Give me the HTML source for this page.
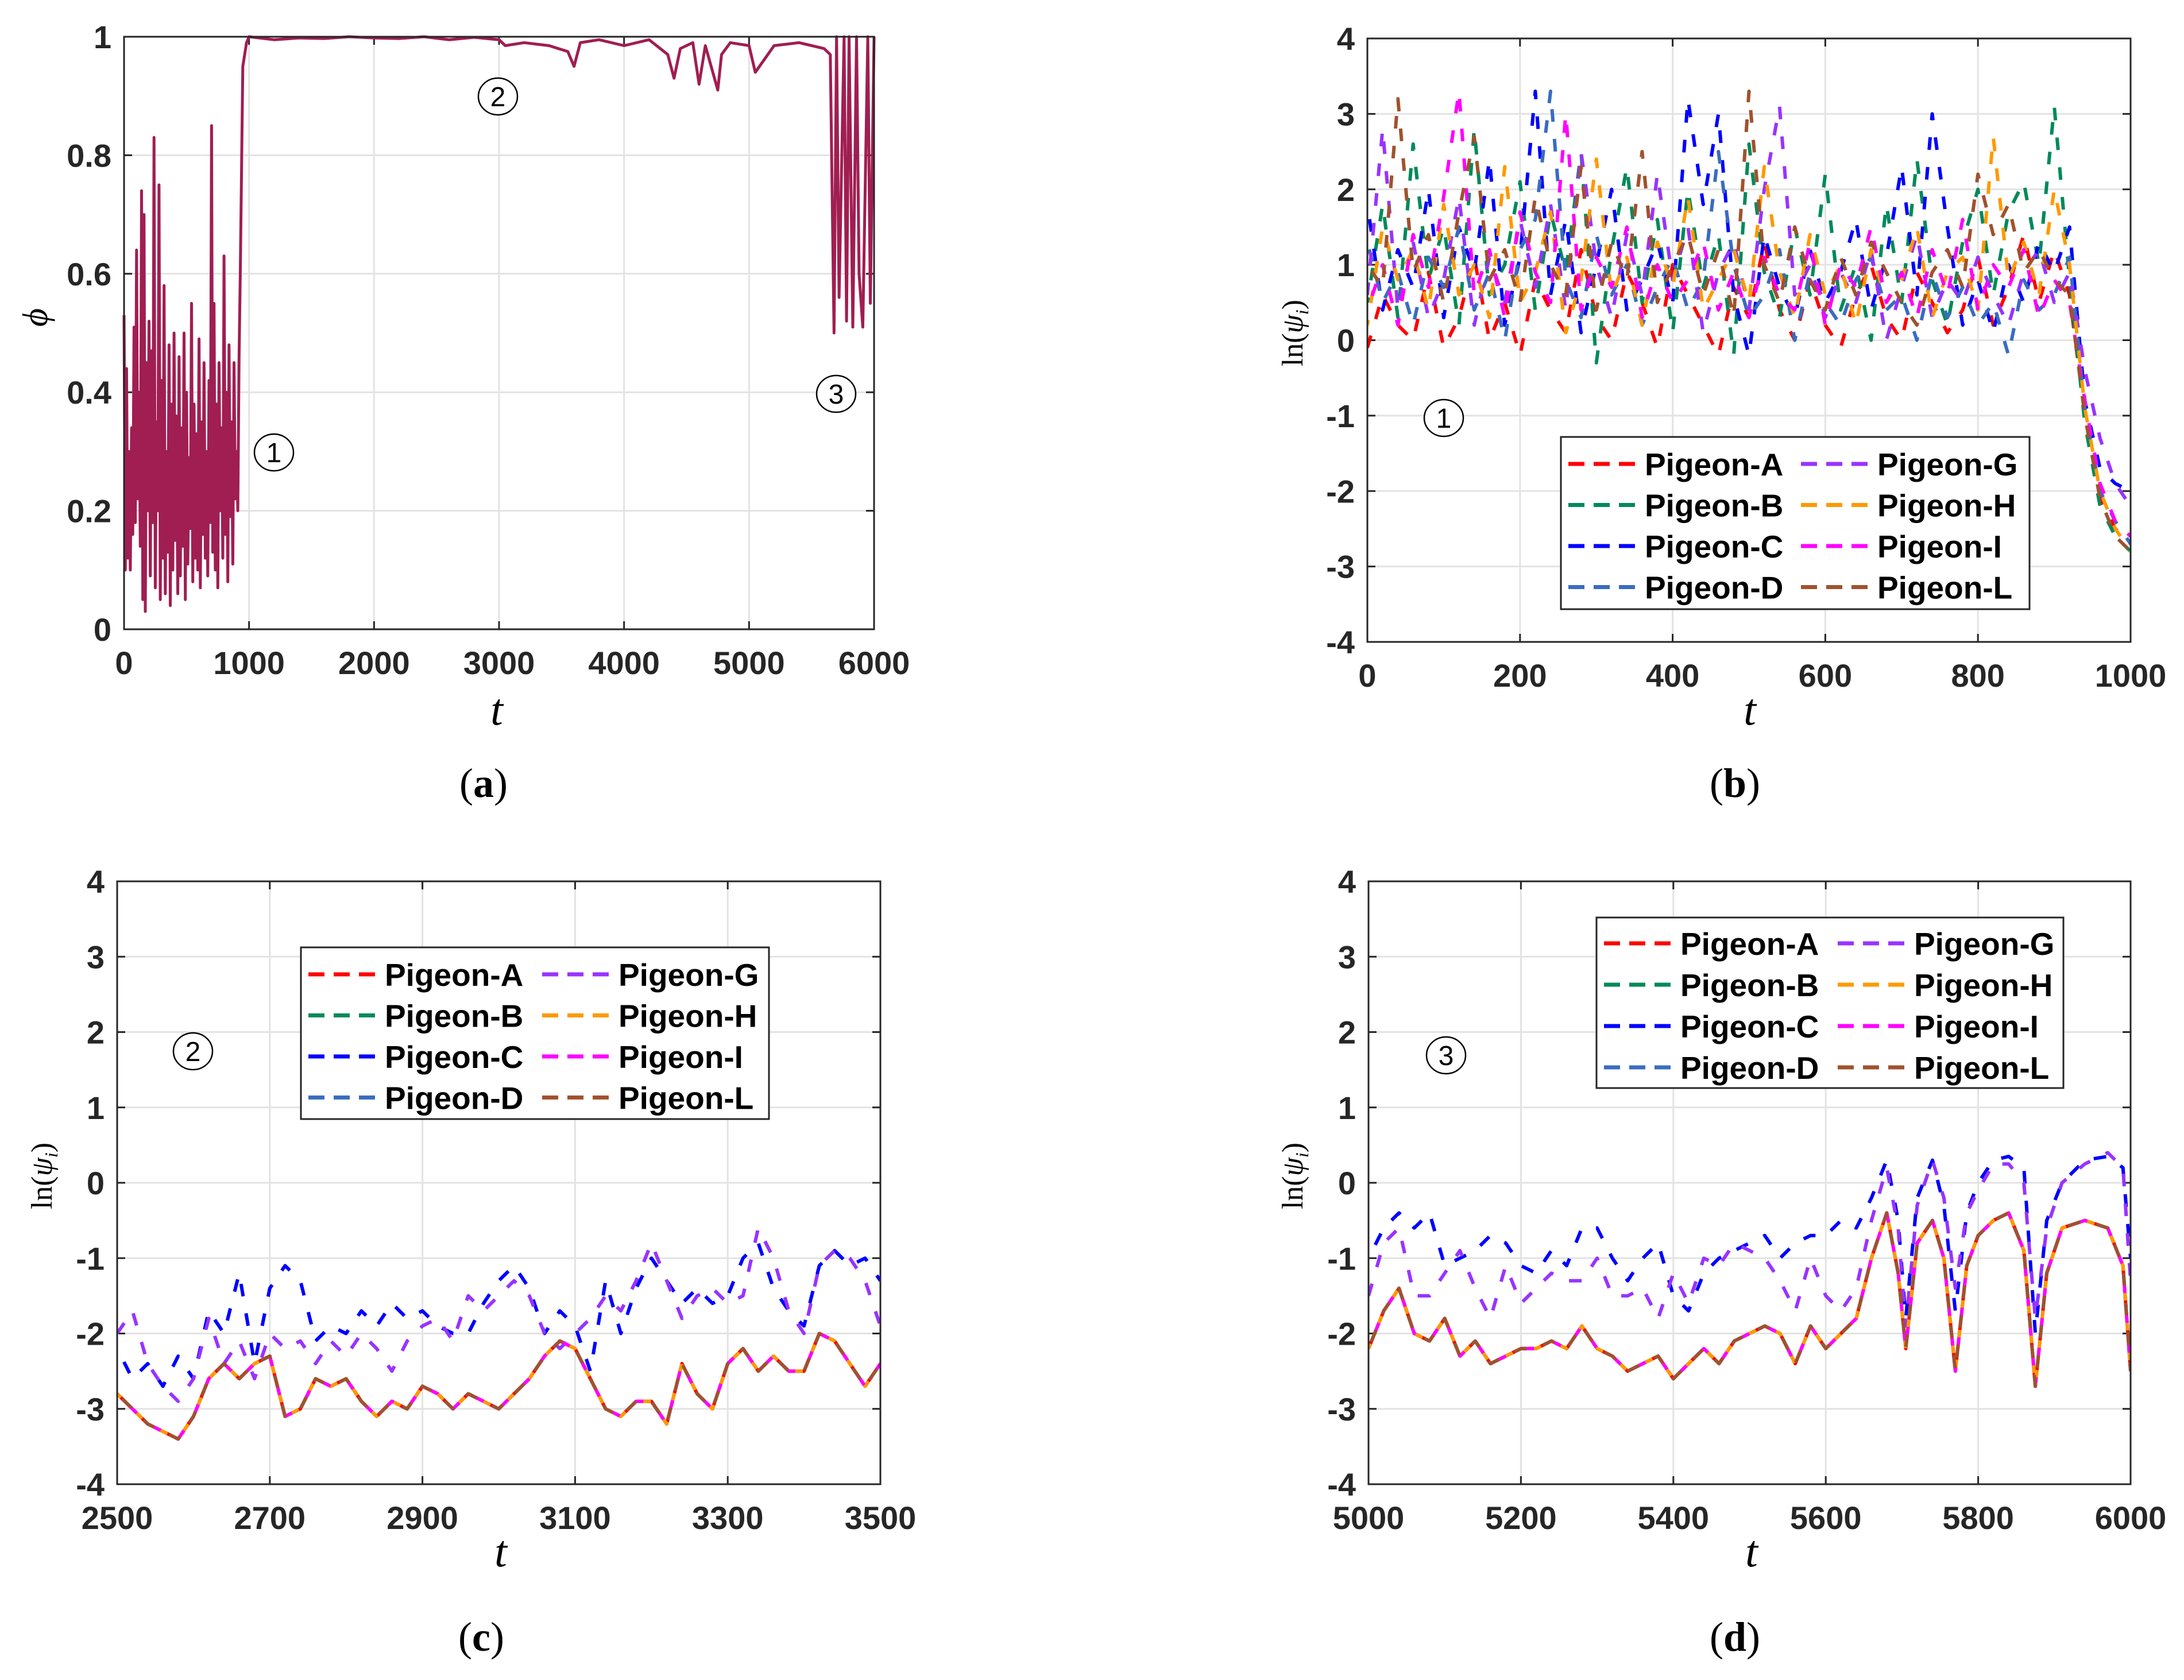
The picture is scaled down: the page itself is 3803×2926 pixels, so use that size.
<!DOCTYPE html>
<html><head><meta charset="utf-8">
<style>
html,body{margin:0;padding:0;background:#fff;}
svg{display:block;}
.tick{font-family:"Liberation Sans",sans-serif;font-weight:bold;font-size:56px;fill:#262626;}
.leg{font-family:"Liberation Sans",sans-serif;font-weight:bold;font-size:55px;fill:#000;}
.ser{font-family:"Liberation Serif",serif;fill:#000;}
</style></head>
<body>
<svg id="fig" width="3803" height="2926" viewBox="0 0 3803 2926" xmlns="http://www.w3.org/2000/svg"></svg>
<script>
// ---------- DATA ----------
const phiNoise = [0.53,0.10,0.44,0.12,0.30,0.10,0.34,0.16,0.51,0.18,0.64,0.22,0.40,0.14,0.74,0.05,0.70,0.03,0.45,0.20,0.52,0.09,0.47,0.18,0.83,0.07,0.35,0.20,0.75,0.05,0.42,0.12,0.58,0.06,0.30,0.13,0.48,0.04,0.38,0.10,0.50,0.15,0.36,0.06,0.46,0.09,0.34,0.14,0.50,0.05,0.40,0.11,0.29,0.17,0.55,0.08,0.38,0.12,0.33,0.10,0.49,0.07,0.35,0.16,0.45,0.12,0.30,0.09,0.42,0.18,0.85,0.13,0.55,0.10,0.38,0.07,0.45,0.20,0.34,0.12,0.63,0.16,0.40,0.08,0.48,0.19,0.35,0.11,0.45,0.22,0.30,0.20,0.46];
const phiTailT = [930,950,980,1000,1200,1400,1600,1800,2000,2200,2400,2600,2800,3000,3050,3200,3400,3550,3600,3650,3800,4000,4200,4350,4400,4450,4550,4600,4650,4750,4780,4850,5000,5050,5200,5400,5600,5650,5680,5700,5720,5760,5780,5800,5830,5860,5880,5910,5950,5970,6000];
const phiTail = [0.6,0.95,0.99,1.0,0.995,0.998,0.997,1.0,0.998,0.997,1.0,0.995,0.999,0.995,0.985,0.99,0.985,0.975,0.95,0.99,0.995,0.985,0.995,0.97,0.93,0.98,0.99,0.92,0.985,0.91,0.97,0.99,0.985,0.94,0.985,0.99,0.98,0.97,0.5,1.0,0.56,1.0,0.52,1.0,0.51,1.0,0.6,0.51,1.0,0.55,1.0];
const phiTicksX = [0,1000,2000,3000,4000,5000,6000];
const phiTicksY = [0,0.2,0.4,0.6,0.8,1];
const lnTicksY = [-4,-3,-2,-1,0,1,2,3,4];

const seriesNames = ["Pigeon-A","Pigeon-B","Pigeon-C","Pigeon-D","Pigeon-G","Pigeon-H","Pigeon-I","Pigeon-L"];
const seriesColors = ["#ff0000","#008a5a","#0000ff","#3a6cc0","#9933ff","#ff9900","#ff00ff","#a0522d"];

// panel b (t = 0..1000, evenly spaced)
const bA = [-0.1,0.6,0.2,0.0,0.9,-0.1,0.3,1.1,0.0,0.5,-0.2,0.8,0.4,0.1,1.2,0.3,0.0,0.9,0.5,-0.1,1.0,0.6,0.2,-0.2,0.7,0.3,1.3,0.4,0.0,0.8,0.2,-0.1,0.6,1.0,0.3,0.0,0.9,0.5,0.1,0.4,1.1,0.2,0.7,1.4,0.5,1.2,0.6,-1.0,-2.1,-2.5,-2.7];
const bB = [0.5,1.8,0.3,2.6,0.8,1.5,0.2,2.8,0.6,1.0,2.1,0.4,1.7,0.9,2.5,-0.3,1.2,2.3,0.5,1.6,0.1,2.0,0.7,1.4,-0.2,2.6,0.9,0.3,1.5,0.6,2.2,0.4,1.0,0.0,1.8,0.5,2.4,0.8,0.2,1.3,2.0,0.6,1.7,2.1,1.0,3.1,0.8,-1.1,-2.2,-2.6,-2.8];
const bC = [1.8,0.4,1.2,0.7,2.0,0.3,1.5,0.9,2.4,0.2,1.1,3.3,0.6,1.6,0.1,1.0,2.0,0.4,0.8,1.3,0.5,3.2,1.8,3.0,0.6,-0.2,1.4,0.7,0.3,1.2,0.5,0.9,1.6,0.4,1.1,2.3,0.6,3.0,1.5,0.2,0.8,0.1,1.0,0.5,1.3,0.9,1.5,-0.8,-1.7,-1.9,-2.0];
const bD = [1.3,0.5,0.9,0.2,1.1,0.7,1.5,0.4,0.9,0.0,1.2,1.6,3.3,0.8,0.3,1.4,0.6,1.0,0.2,0.7,1.1,0.4,0.8,2.5,1.0,0.3,0.6,1.2,0.0,0.9,0.5,0.2,0.8,1.1,0.4,0.6,0.0,0.9,0.3,0.7,0.2,0.5,-0.2,0.8,0.4,0.6,1.1,-0.9,-2.0,-2.4,-2.7];
const bG = [0.6,2.8,0.4,1.3,0.3,0.8,1.9,0.2,1.1,0.5,1.6,0.7,1.8,0.4,2.5,1.0,0.3,1.4,0.6,2.2,0.8,1.5,0.1,0.9,1.3,0.4,2.0,3.1,0.6,1.0,0.3,0.9,0.5,1.2,0.0,0.7,1.4,0.3,0.8,0.5,1.1,0.6,0.2,0.9,1.2,0.5,0.9,-0.4,-1.3,-1.9,-2.2];
const bH = [0.2,1.5,0.8,1.2,0.4,1.8,0.6,1.0,0.3,2.3,0.5,0.9,1.7,0.1,0.8,2.4,0.6,1.1,0.2,1.3,0.7,1.9,0.4,0.8,1.2,0.5,2.3,0.9,0.3,1.4,0.6,1.0,0.2,1.2,0.5,0.8,1.5,0.3,0.9,1.1,0.4,2.7,0.8,1.3,0.6,2.0,1.0,-0.9,-2.0,-2.5,-2.8];
const bI = [0.4,1.0,0.2,1.4,0.7,1.9,3.3,0.6,1.2,0.3,1.7,0.9,0.5,3.0,0.4,1.1,0.7,1.5,0.3,1.0,0.5,0.8,1.3,0.4,0.9,0.3,1.1,0.6,0.4,1.3,0.2,1.0,0.7,1.5,0.5,0.9,0.3,1.2,0.6,1.6,0.4,1.0,0.7,1.2,0.3,0.8,0.5,-0.8,-1.9,-2.4,-2.6];
const bL = [1.0,0.7,3.2,0.9,1.4,0.5,1.7,2.7,0.8,1.2,0.5,1.9,1.0,0.6,2.3,0.4,1.3,0.8,2.5,0.5,1.0,1.4,0.6,1.2,0.3,3.3,1.0,0.5,1.5,0.8,0.4,1.1,0.6,1.3,0.9,0.5,0.2,0.9,1.2,0.7,2.2,1.4,1.8,0.9,1.2,0.8,0.6,-1.0,-2.1,-2.6,-2.8];
const bTicksX = [0,200,400,600,800,1000];

// panel c (t = 2500..3500, evenly spaced)
const cCluster = [-2.8,-3.0,-3.2,-3.3,-3.4,-3.1,-2.6,-2.4,-2.6,-2.4,-2.3,-3.1,-3.0,-2.6,-2.7,-2.6,-2.9,-3.1,-2.9,-3.0,-2.7,-2.8,-3.0,-2.8,-2.9,-3.0,-2.8,-2.6,-2.3,-2.1,-2.2,-2.6,-3.0,-3.1,-2.9,-2.9,-3.2,-2.4,-2.8,-3.0,-2.4,-2.2,-2.5,-2.3,-2.5,-2.5,-2.0,-2.1,-2.4,-2.7,-2.4];
const cC = [-2.2,-2.6,-2.4,-2.7,-2.3,-2.6,-1.7,-2.0,-1.2,-2.4,-1.4,-1.1,-1.3,-2.1,-1.9,-2.0,-1.7,-1.9,-1.6,-1.8,-1.7,-1.9,-2.0,-2.0,-1.6,-1.3,-1.1,-1.4,-2.0,-1.7,-1.9,-2.5,-1.3,-2.0,-1.4,-1.0,-1.3,-1.6,-1.4,-1.6,-1.5,-1.0,-0.8,-1.4,-1.7,-1.9,-1.1,-0.9,-1.1,-1.0,-1.3];
const cG = [-2.0,-1.7,-2.4,-2.7,-2.9,-2.6,-1.8,-2.4,-2.1,-2.6,-2.0,-2.2,-2.1,-2.4,-2.1,-2.3,-2.0,-2.2,-2.5,-2.1,-1.9,-1.8,-2.1,-1.5,-1.7,-1.5,-1.3,-1.5,-2.0,-2.2,-2.0,-1.8,-1.5,-1.7,-1.3,-0.8,-1.3,-1.8,-1.5,-1.4,-1.6,-1.5,-0.6,-1.0,-1.7,-2.0,-1.1,-0.9,-1.0,-1.3,-1.9];
const cTicksX = [2500,2700,2900,3100,3300,3500];

// panel d
const dT = [5000,5020,5040,5060,5080,5100,5120,5140,5160,5180,5200,5220,5240,5260,5280,5300,5320,5340,5360,5380,5400,5420,5440,5460,5480,5500,5520,5540,5560,5580,5600,5620,5640,5660,5680,5695,5705,5720,5740,5755,5770,5785,5800,5820,5840,5860,5875,5890,5910,5940,5970,5990,6000];
const dCluster = [-2.2,-1.7,-1.4,-2.0,-2.1,-1.8,-2.3,-2.1,-2.4,-2.3,-2.2,-2.2,-2.1,-2.2,-1.9,-2.2,-2.3,-2.5,-2.4,-2.3,-2.6,-2.4,-2.2,-2.4,-2.1,-2.0,-1.9,-2.0,-2.4,-1.9,-2.2,-2.0,-1.8,-1.0,-0.4,-1.2,-2.2,-0.8,-0.5,-1.0,-2.5,-1.1,-0.7,-0.5,-0.4,-0.9,-2.7,-1.2,-0.6,-0.5,-0.6,-1.1,-2.5];
const dC = [-1.0,-0.6,-0.4,-0.6,-0.4,-1.1,-1.0,-0.9,-0.7,-0.8,-1.1,-1.2,-0.9,-1.1,-0.6,-0.6,-1.0,-1.3,-1.0,-0.8,-1.5,-1.7,-1.2,-1.0,-0.9,-0.8,-0.7,-1.0,-0.8,-0.7,-0.7,-0.5,-0.6,-0.2,0.3,-0.5,-1.8,-0.2,0.3,-0.3,-1.7,-0.4,0.0,0.3,0.35,0.2,-2.0,-0.5,0.0,0.3,0.35,0.2,-1.0];
const dG = [-1.5,-0.8,-0.6,-1.5,-1.5,-1.2,-0.9,-1.4,-1.8,-1.1,-1.6,-1.4,-1.2,-1.3,-1.3,-1.0,-1.5,-1.5,-1.4,-1.8,-1.2,-1.6,-1.0,-1.1,-0.8,-0.9,-1.0,-1.3,-1.7,-1.0,-1.5,-1.7,-1.4,-0.5,0.2,-0.6,-1.9,-0.3,0.3,-0.2,-1.4,-0.4,-0.1,0.25,0.25,0.0,-1.8,-0.6,0.0,0.25,0.4,0.2,-1.3];
const dTicksX = [5000,5200,5400,5600,5800,6000];

// ---------- DRAWING ----------
const NS = "http://www.w3.org/2000/svg";
const svg = document.getElementById('fig');
function mk(tag, attrs, parent) {
  const e = document.createElementNS(NS, tag);
  for (const k in attrs) e.setAttribute(k, attrs[k]);
  (parent || svg).appendChild(e);
  return e;
}
function scale(d0, d1, r0, r1) { return v => r0 + (v - d0) / (d1 - d0) * (r1 - r0); }
function evenT(n, t0, t1) { const a = []; for (let i = 0; i < n; i++) a.push(t0 + i * (t1 - t0) / (n - 1)); return a; }

function axes(g, box, xd, yd, xt, yt, yfmt) {
  const X = scale(xd[0], xd[1], box.x0, box.x1), Y = scale(yd[0], yd[1], box.y1, box.y0);
  xt.forEach(v => {
    const l = mk('line', {x1: X(v), x2: X(v), y1: box.y0, y2: box.y1, stroke: '#e3e3e3', 'stroke-width': 3}, g);
    
    
  });
  yt.forEach(v => {
    const l = mk('line', {x1: box.x0, x2: box.x1, y1: Y(v), y2: Y(v), stroke: '#e3e3e3', 'stroke-width': 3}, g);
    
    
  });
  xt.forEach(v => {
    mk('line', {x1: X(v), x2: X(v), y1: box.y1, y2: box.y1 - 14, stroke: '#262626', 'stroke-width': 3}, g);
    mk('line', {x1: X(v), x2: X(v), y1: box.y0, y2: box.y0 + 14, stroke: '#262626', 'stroke-width': 3}, g);
    const t = mk('text', {x: X(v), y: box.y1 + 78, 'text-anchor': 'middle', class: 'tick'}, g);
    
    
    t.textContent = v;
  });
  yt.forEach(v => {
    mk('line', {x1: box.x0, x2: box.x0 + 14, y1: Y(v), y2: Y(v), stroke: '#262626', 'stroke-width': 3}, g);
    mk('line', {x1: box.x1, x2: box.x1 - 14, y1: Y(v), y2: Y(v), stroke: '#262626', 'stroke-width': 3}, g);
    const t = mk('text', {x: box.x0 - 22, y: Y(v) + 20, 'text-anchor': 'end', class: 'tick'}, g);
    
    
    t.textContent = yfmt ? yfmt(v) : v;
  });
  return {X, Y};
}
function frame(g, box) {
  const r = mk('rect', {x: box.x0, y: box.y0, width: box.x1 - box.x0, height: box.y1 - box.y0, fill: 'none', stroke: '#262626', 'stroke-width': 3}, g);
  
  
}
function pathD(ts, vs, X, Y) {
  let d = '';
  const n = Math.min(ts.length, vs.length);
  for (let i = 0; i < n; i++) d += (i ? 'L' : 'M') + X(ts[i]).toFixed(1) + ' ' + Y(vs[i]).toFixed(1);
  return d;
}
function clip(id, box) {
  const cp = mk('clipPath', {id: id});
  mk('rect', {x: box.x0, y: box.y0, width: box.x1 - box.x0, height: box.y1 - box.y0}, cp);
}
function circled(g, x, y, num) {
  const c = mk('ellipse', {cx: x, cy: y, rx: 34, ry: 32, fill: '#fff', stroke: '#000', 'stroke-width': 2.5}, g);
  
  
  const t = mk('text', {x: x, y: y + 17, 'text-anchor': 'middle', 'font-family': 'Liberation Sans, sans-serif', 'font-size': 48, fill: '#000'}, g);
  
  
  t.textContent = num;
}
function xTitle(g, x, y) {
  const t = mk('text', {x: x, y: y, 'text-anchor': 'middle', class: 'ser', 'font-style': 'italic', 'font-size': 78}, g);
  
  
  t.textContent = 't';
}
function lnTitle(g, x, y) {
  const t = mk('text', {x: 0, y: 0, 'text-anchor': 'middle', class: 'ser', 'font-size': 52, transform: `translate(${x},${y}) rotate(-90)`}, g);
  
  
  t.innerHTML = 'ln(<tspan font-style="italic">ψ</tspan><tspan font-size="32" dy="10" font-style="italic">i</tspan><tspan dy="-10">)</tspan>';
}
function panelLabel(g, x, y, s) {
  const t = mk('text', {x: x, y: y, 'text-anchor': 'middle', class: 'ser', 'font-size': 72}, g);
  
  
  t.innerHTML = '(<tspan font-weight="bold">' + s + '</tspan>)';
}
function legend(g, lb) {
  const r = mk('rect', {x: lb.x, y: lb.y, width: lb.w, height: lb.h, fill: '#fff', stroke: '#262626', 'stroke-width': 3}, g);
  
  
  seriesNames.forEach((nm, i) => {
    const col = i < 4 ? 0 : 1, row = i % 4;
    const lx = lb.x + 13 + col * lb.colW, ty = lb.y + lb.r0 + row * lb.rowH;
    const eg = mk('g', {}, g);
    
    
    mk('line', {x1: lx, x2: lx + 116, y1: ty, y2: ty, stroke: seriesColors[i], 'stroke-width': 7, 'stroke-dasharray': '28 16'}, eg);
    const t = mk('text', {x: lx + 133, y: ty + 20, class: 'leg'}, eg);
    t.textContent = nm;
  });
}
function seriesPanel(name, box, xd, xt, tArrs, valArrs, lb) {
  const g = mk('g', {});
  
  
  const {X, Y} = axes(g, box, xd, [-4, 4], xt, lnTicksY);
  clip(name + '-clip', box);
  const sg = mk('g', {'clip-path': `url(#${name}-clip)`}, g);
  valArrs.forEach((vs, i) => {
    const p = mk('path', {d: pathD(tArrs[i], vs, X, Y), fill: 'none', stroke: seriesColors[i], 'stroke-width': 6, 'stroke-dasharray': '22 30', 'stroke-dashoffset': i * 13, 'stroke-linejoin': 'round'}, sg);
    
    
  });
  frame(g, box);
  legend(g, lb);
  return g;
}

// Panel (a)
(function () {
  const box = {x0: 216, x1: 1522, y0: 64, y1: 1096};
  const g = mk('g', {});
  
  
  const {X, Y} = axes(g, box, [0, 6000], [0, 1], phiTicksX, phiTicksY, v => v);
  const tN = phiNoise.map((v, i) => i * 10);
  const p = mk('path', {d: pathD(tN.concat(phiTailT), phiNoise.concat(phiTail), X, Y), fill: 'none', stroke: '#a01e52', 'stroke-width': 5, 'stroke-linejoin': 'round'}, g);
  
  
  frame(g, box);
  const yt = mk('text', {x: 0, y: 0, 'text-anchor': 'middle', class: 'ser', 'font-style': 'italic', 'font-size': 62, transform: 'translate(82,553) rotate(-90)'}, g);
  
  
  yt.textContent = 'ϕ';
  xTitle(g, 865, 1262);
  panelLabel(g, 842, 1388, 'a');
  circled(g, 477, 788, '1');
  circled(g, 867, 168, '2');
  circled(g, 1456, 686, '3');
})();

// Panel (b)
(function () {
  const box = {x0: 2381, x1: 3710, y0: 67, y1: 1118};
  const vals = [bA, bB, bC, bD, bG, bH, bI, bL];
  const ts = vals.map(v => evenT(v.length, 0, 1000));
  const g = seriesPanel('panel-b', box, [0, 1000], bTicksX, ts, vals,
    {x: 2718, y: 761, w: 816, h: 300, colW: 405, r0: 47, rowH: 71.5});
  lnTitle(g, 2268, 580);
  xTitle(g, 3047, 1262);
  panelLabel(g, 3021, 1388, 'b');
  circled(g, 2514, 728, '1');
})();

// Panel (c)
(function () {
  const box = {x0: 204, x1: 1533, y0: 1535, y1: 2585};
  const vals = [cCluster, cCluster, cC, cCluster, cG, cCluster, cCluster, cCluster];
  const ts = vals.map(v => evenT(v.length, 2500, 3500));
  const g = seriesPanel('panel-c', box, [2500, 3500], cTicksX, ts, vals,
    {x: 524, y: 1650, w: 815, h: 299, colW: 407, r0: 47, rowH: 71.5});
  lnTitle(g, 90, 2048);
  xTitle(g, 872, 2728);
  panelLabel(g, 838, 2875, 'c');
  circled(g, 336, 1831, '2');
})();

// Panel (d)
(function () {
  const box = {x0: 2383, x1: 3710, y0: 1535, y1: 2585};
  const vals = [dCluster, dCluster, dC, dCluster, dG, dCluster, dCluster, dCluster];
  const ts = vals.map(() => dT);
  const g = seriesPanel('panel-d', box, [5000, 6000], dTicksX, ts, vals,
    {x: 2780, y: 1598, w: 813, h: 297, colW: 407, r0: 45, rowH: 72});
  lnTitle(g, 2268, 2048);
  xTitle(g, 3050, 2728);
  panelLabel(g, 3021, 2875, 'd');
  circled(g, 2518, 1838, '3');
})();
</script>
</body></html>
